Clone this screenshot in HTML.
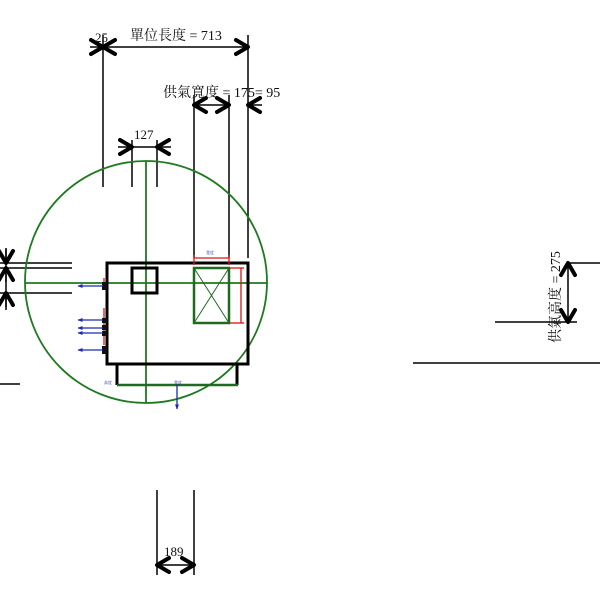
<!DOCTYPE html>
<html><head><meta charset="utf-8"><style>
html,body{margin:0;padding:0;background:#fff;width:600px;height:600px;overflow:hidden}
text{font-family:"Liberation Serif","Noto Serif CJK SC","Noto Sans CJK TC",serif;fill:#111}
</style></head><body>
<svg width="600" height="600" viewBox="0 0 600 600" xmlns="http://www.w3.org/2000/svg">
<defs>
<marker id="ah" viewBox="-15 -10 18 20" refX="0" refY="0" markerWidth="18" markerHeight="20" markerUnits="userSpaceOnUse" orient="auto-start-reverse"><path d="M-12,-7 L0,0 L-12,7" fill="none" stroke="#000" stroke-width="4" stroke-linecap="round" stroke-linejoin="round"/></marker>
<marker id="bh" viewBox="0 0 10 10" refX="9" refY="5" markerWidth="4" markerHeight="4" orient="auto"><path d="M0,1 L10,5 L0,9z" fill="#1a2bb0"/></marker>
</defs>
<g stroke="#000" stroke-width="1.5" fill="none">
<line x1="103" y1="35" x2="103" y2="187"/>
<line x1="248" y1="35" x2="248" y2="258"/>
<line x1="194" y1="95" x2="194" y2="258"/>
<line x1="229" y1="95" x2="229" y2="258"/>
<line x1="132" y1="140" x2="132" y2="187"/>
<line x1="157" y1="140" x2="157" y2="187"/>
<line x1="0" y1="263" x2="72" y2="263"/>
<line x1="0" y1="268" x2="72" y2="268"/>
<line x1="0" y1="293" x2="72" y2="293"/>
<line x1="6" y1="248" x2="6" y2="310"/>
<line x1="0" y1="384" x2="20" y2="384"/>
<line x1="568" y1="263" x2="600" y2="263"/>
<line x1="495" y1="322" x2="577" y2="322"/>
<line x1="413" y1="363" x2="600" y2="363"/>
<line x1="157" y1="490" x2="157" y2="575"/>
<line x1="194" y1="490" x2="194" y2="575"/>
</g>
<g stroke="#000" stroke-width="1.5" fill="none">
<line x1="90" y1="47" x2="103" y2="47" marker-end="url(#ah)"/>
<line x1="103" y1="47" x2="248" y2="47" marker-start="url(#ah)" marker-end="url(#ah)"/>
<line x1="194" y1="105" x2="229" y2="105" marker-start="url(#ah)" marker-end="url(#ah)"/>
<line x1="262" y1="105" x2="248" y2="105" marker-end="url(#ah)"/>
<line x1="118" y1="147" x2="132" y2="147" marker-end="url(#ah)"/>
<line x1="171" y1="147" x2="157" y2="147" marker-end="url(#ah)"/>
<line x1="132" y1="147" x2="157" y2="147"/>
<line x1="6" y1="249" x2="6" y2="263" marker-end="url(#ah)"/>
<line x1="6" y1="282" x2="6" y2="268" marker-end="url(#ah)"/>
<line x1="6" y1="307" x2="6" y2="293" marker-end="url(#ah)"/>
<line x1="568" y1="263" x2="568" y2="322" marker-start="url(#ah)" marker-end="url(#ah)"/>
<line x1="157" y1="565" x2="194" y2="565" marker-start="url(#ah)" marker-end="url(#ah)"/>
</g>
<g stroke="#1e7a1e" stroke-width="1.8" fill="none">
<circle cx="146" cy="282" r="121"/>
<line x1="25" y1="283" x2="267" y2="283"/>
<line x1="146" y1="161" x2="146" y2="403"/>
</g>
<g stroke="#000" stroke-width="3" fill="none">
<rect x="107" y="263" width="141" height="101"/>
<rect x="132" y="268" width="25" height="25"/>
<line x1="117" y1="364" x2="117" y2="385"/>
<line x1="237" y1="364" x2="237" y2="385"/>
</g>
<g stroke="#1e6a1e" stroke-width="2.5" fill="none">
<rect x="194" y="268" width="35" height="55"/>
<line x1="117" y1="385" x2="238" y2="385"/>
</g>
<g stroke="#1e6a1e" stroke-width="1" fill="none">
<line x1="194" y1="268" x2="229" y2="323"/><line x1="229" y1="268" x2="194" y2="323"/>
</g>
<g stroke="#e01010" stroke-width="1.3" fill="none">
<line x1="194" y1="258" x2="229" y2="258"/>
<line x1="194" y1="255" x2="194" y2="265"/><line x1="229" y1="255" x2="229" y2="265"/>
<line x1="241" y1="268" x2="241" y2="323"/>
<line x1="230" y1="268" x2="244" y2="268"/><line x1="230" y1="323" x2="244" y2="323"/>
<line x1="104" y1="278" x2="104" y2="290"/>
<line x1="104" y1="308" x2="104" y2="345"/>
</g>
<g fill="#111">
<rect x="102" y="282" width="5" height="8"/>
<rect x="102" y="318" width="5" height="5"/>
<rect x="102" y="325" width="5" height="5"/>
<rect x="102" y="331" width="5" height="5"/>
<rect x="102" y="346" width="5" height="8"/>
</g>
<g stroke="#1a2bb0" stroke-width="1.3">
<line x1="103" y1="286" x2="78" y2="286" marker-end="url(#bh)"/>
<line x1="103" y1="320" x2="78" y2="320" marker-end="url(#bh)"/>
<line x1="103" y1="328" x2="78" y2="328" marker-end="url(#bh)"/>
<line x1="103" y1="333" x2="78" y2="333" marker-end="url(#bh)"/>
<line x1="103" y1="350" x2="78" y2="350" marker-end="url(#bh)"/>
<line x1="177" y1="385" x2="177" y2="409" marker-end="url(#bh)"/>
</g>
<g font-size="4">
<text x="206" y="254" style="fill:#1a2bb0">寬度</text>
<text x="104" y="384" style="fill:#1a2bb0">高度</text>
<text x="174" y="384" style="fill:#1a2bb0">寬度</text>
</g>
<text x="95" y="42" font-size="13">25</text>
<text x="130" y="40" font-size="14">單位長度 = 713</text>
<text x="163" y="97" font-size="14">供氣寬度 = 175= 95</text>
<text x="134" y="139" font-size="13">127</text>
<text x="164" y="556" font-size="13">189</text>
<text transform="translate(560,343) rotate(-90)" font-size="14">供氣高度 = 275</text>
</svg>
</body></html>
